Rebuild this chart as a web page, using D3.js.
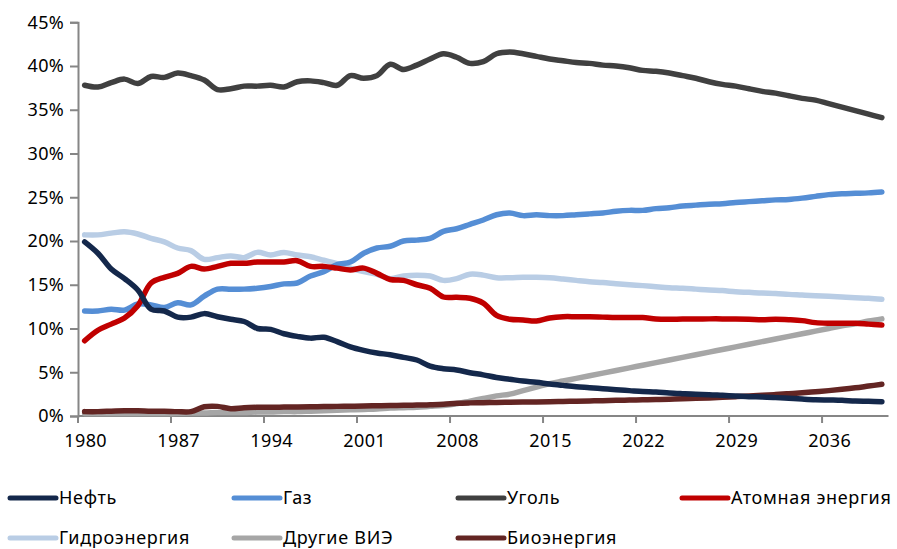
<!DOCTYPE html>
<html>
<head>
<meta charset="utf-8">
<script src="https://cdn.jsdelivr.net/npm/d3@7"></script>
<style>
  body { margin: 0; background: #fff; }
  svg { font-family: "Noto Sans", "Open Sans", sans-serif; }
</style>
</head>
<body>
<div id="chart"></div>
<script>
var years = d3.range(1980, 2041);
var tickYears = [1980, 1987, 1994, 2001, 2008, 2015, 2022, 2029, 2036];
var yTicks = [0, 5, 10, 15, 20, 25, 30, 35, 40, 45];

var oil = [19.9, 18.6, 16.8, 15.7, 14.4, 12.2, 12.0, 11.3, 11.3, 11.7,
  11.35, 11.05, 10.8, 10.0, 9.9, 9.4, 9.1, 8.9, 9.0, 8.5,
  7.9, 7.5, 7.2, 7.0, 6.7, 6.4, 5.7, 5.4, 5.26, 4.95,
  4.7, 4.4, 4.2, 4.0, 3.85, 3.66, 3.5, 3.35, 3.24, 3.12,
  3.0, 2.9, 2.8, 2.74, 2.63, 2.55, 2.48, 2.44, 2.36, 2.29,
  2.21, 2.17, 2.1, 2.02, 1.94, 1.87, 1.83, 1.79, 1.71, 1.68, 1.64];
var gas = [12.0, 12.0, 12.2, 12.1, 12.8, 12.7, 12.4, 12.95, 12.7, 13.7,
  14.5, 14.5, 14.5, 14.6, 14.8, 15.1, 15.2, 16.0, 16.5, 17.3,
  17.6, 18.6, 19.2, 19.4, 20.0, 20.1, 20.3, 21.1, 21.4, 21.9,
  22.4, 23.0, 23.2, 22.9, 23.0, 22.9, 22.9, 23.0, 23.1, 23.2,
  23.4, 23.5, 23.5, 23.7, 23.8, 24.0, 24.1, 24.2, 24.25, 24.4,
  24.5, 24.6, 24.7, 24.75, 24.9, 25.1, 25.3, 25.4, 25.45, 25.5, 25.6];
var coal = [37.8, 37.6, 38.1, 38.5, 38.0, 38.8, 38.7, 39.2, 38.9, 38.4,
  37.3, 37.4, 37.7, 37.7, 37.8, 37.6, 38.2, 38.3, 38.1, 37.8,
  38.9, 38.6, 38.9, 40.2, 39.6, 40.1, 40.8, 41.4, 41.0, 40.3,
  40.5, 41.4, 41.6, 41.4, 41.1, 40.8, 40.6, 40.4, 40.3, 40.1,
  40.0, 39.8, 39.5, 39.4, 39.2, 38.9, 38.6, 38.2, 37.9, 37.7,
  37.4, 37.1, 36.9, 36.6, 36.3, 36.1, 35.7, 35.3, 34.9, 34.5, 34.1];
var nuclear = [8.6, 9.8, 10.5, 11.2, 12.6, 15.2, 15.85, 16.3, 17.1, 16.8,
  17.1, 17.45, 17.45, 17.6, 17.6, 17.6, 17.75, 17.1, 17.1, 16.9,
  16.7, 16.9, 16.3, 15.6, 15.5, 15.0, 14.6, 13.6, 13.56, 13.45,
  12.9, 11.5, 11.05, 10.97, 10.86, 11.2, 11.35, 11.35, 11.35, 11.3,
  11.25, 11.25, 11.25, 11.08, 11.05, 11.08, 11.08, 11.1, 11.1, 11.08,
  11.05, 11.0, 11.05, 11.0, 10.9, 10.67, 10.6, 10.6, 10.6, 10.5, 10.4];
var hydro = [20.7, 20.7, 20.9, 21.05, 20.8, 20.3, 19.9, 19.2, 18.9, 17.9,
  18.1, 18.3, 18.1, 18.7, 18.4, 18.7, 18.4, 18.2, 17.8, 17.4,
  16.9, 16.5, 16.2, 15.7, 16.0, 16.1, 16.0, 15.5, 15.7, 16.2,
  16.1, 15.8, 15.8, 15.85, 15.85, 15.8, 15.66, 15.5, 15.35, 15.25,
  15.12, 15.0, 14.9, 14.78, 14.67, 14.6, 14.5, 14.4, 14.33, 14.2,
  14.13, 14.05, 14.0, 13.9, 13.83, 13.75, 13.68, 13.6, 13.52, 13.45, 13.34];
var otherRes = [0.3, 0.3, 0.3, 0.3, 0.3, 0.3, 0.3, 0.3, 0.35, 0.35,
  0.4, 0.4, 0.4, 0.45, 0.45, 0.5, 0.5, 0.55, 0.6, 0.65,
  0.7, 0.75, 0.8, 0.9, 0.95, 1.0, 1.1, 1.2, 1.4, 1.7,
  2.0, 2.3, 2.5, 2.9, 3.3, 3.7, 4.0, 4.3, 4.6, 4.9,
  5.2, 5.5, 5.8, 6.1, 6.4, 6.7, 7.0, 7.3, 7.6, 7.9,
  8.2, 8.5, 8.8, 9.1, 9.4, 9.7, 10.0, 10.3, 10.55, 10.85, 11.1];
var bio = [0.5, 0.5, 0.55, 0.6, 0.6, 0.55, 0.55, 0.5, 0.5, 1.05,
  1.1, 0.84, 0.95, 0.99, 1.0, 1.02, 1.04, 1.06, 1.08, 1.1,
  1.12, 1.14, 1.17, 1.2, 1.22, 1.25, 1.28, 1.33, 1.45, 1.5,
  1.52, 1.55, 1.57, 1.59, 1.61, 1.63, 1.66, 1.69, 1.72, 1.75,
  1.79, 1.82, 1.85, 1.88, 1.92, 1.98, 2.02, 2.07, 2.13, 2.21,
  2.28, 2.36, 2.45, 2.55, 2.65, 2.77, 2.9, 3.05, 3.22, 3.42, 3.62];

var series = [
  { name: "Нефть", values: oil, color: "#14284b" },
  { name: "Газ", values: gas, color: "#558ed5" },
  { name: "Уголь", values: coal, color: "#404040" },
  { name: "Атомная энергия", values: nuclear, color: "#c00000" },
  { name: "Гидроэнергия", values: hydro, color: "#b9cde5" },
  { name: "Другие ВИЭ", values: otherRes, color: "#a6a6a6" },
  { name: "Биоэнергия", values: bio, color: "#632523" },
];
// draw order: gray under bio, the rest on top
var drawOrder = [5, 6, 4, 1, 3, 0, 2];

var width = 897, height = 549;
var svg = d3.select("#chart").append("svg")
  .attr("width", width).attr("height", height);

var x = d3.scaleLinear().domain([1979.5, 2040.5]).range([78, 888.5]);
var y = d3.scaleLinear().domain([0, 45]).range([416, 22.25]);

var axisColor = "#868686";

// y axis
var yAxis = svg.append("g")
  .attr("transform", "translate(78,0)")
  .call(d3.axisLeft(y).tickValues(yTicks).tickSize(8).tickPadding(6)
    .tickFormat((d) => d + "%"));
yAxis.select(".domain").attr("stroke", axisColor).attr("stroke-width", 2);
yAxis.selectAll(".tick line").attr("stroke", axisColor).attr("stroke-width", 2);
yAxis.selectAll("text").attr("font-size", 18).attr("fill", "#000")
  .attr("font-family", "Noto Sans").attr("letter-spacing", 0.3);

// x axis: tick marks between categories, labels centred on category
var xAxis = svg.append("g").attr("transform", "translate(0,416)");
xAxis.append("line")
  .attr("x1", x(1979.5)).attr("x2", x(2040.5))
  .attr("stroke", axisColor).attr("stroke-width", 2);
xAxis.selectAll(".xt").data(tickYears).enter().append("line")
  .attr("x1", (d) => x(d - 0.5)).attr("x2", (d) => x(d - 0.5))
  .attr("y1", 0).attr("y2", 7)
  .attr("stroke", axisColor).attr("stroke-width", 2);
xAxis.selectAll(".xl").data(tickYears).enter().append("text")
  .attr("x", (d) => x(d) + 1).attr("y", 31)
  .attr("text-anchor", "middle").attr("font-size", 18).attr("fill", "#000")
  .attr("letter-spacing", 0.4)
  .text((d) => d);

var line = d3.line()
  .x((d, i) => x(years[i]))
  .y((d) => y(d))
  .curve(d3.curveCatmullRom.alpha(0.5));

svg.append("g").selectAll("path").data(drawOrder.map((i) => series[i])).enter()
  .append("path")
  .attr("fill", "none")
  .attr("stroke", (d) => d.color)
  .attr("stroke-width", 5.5)
  .attr("stroke-linecap", "round")
  .attr("stroke-linejoin", "round")
  .attr("d", (d) => line(d.values));

// legend
var legendX = [10, 234, 458, 682];
var legendY = [498, 538];
var leg = svg.append("g").selectAll("g").data(series).enter().append("g")
  .attr("transform", (d, i) => `translate(${legendX[i % 4]},${legendY[Math.floor(i / 4)]})`);
leg.append("line")
  .attr("x1", 0).attr("x2", 46).attr("y1", 0).attr("y2", 0)
  .attr("stroke", (d) => d.color).attr("stroke-width", 5)
  .attr("stroke-linecap", "round");
leg.append("text")
  .attr("x", 49).attr("y", 0).attr("dy", "0.35em")
  .attr("font-size", 18).attr("fill", "#000")
  .attr("letter-spacing", 0.7)
  .text((d) => d.name);
</script>
</body>
</html>
